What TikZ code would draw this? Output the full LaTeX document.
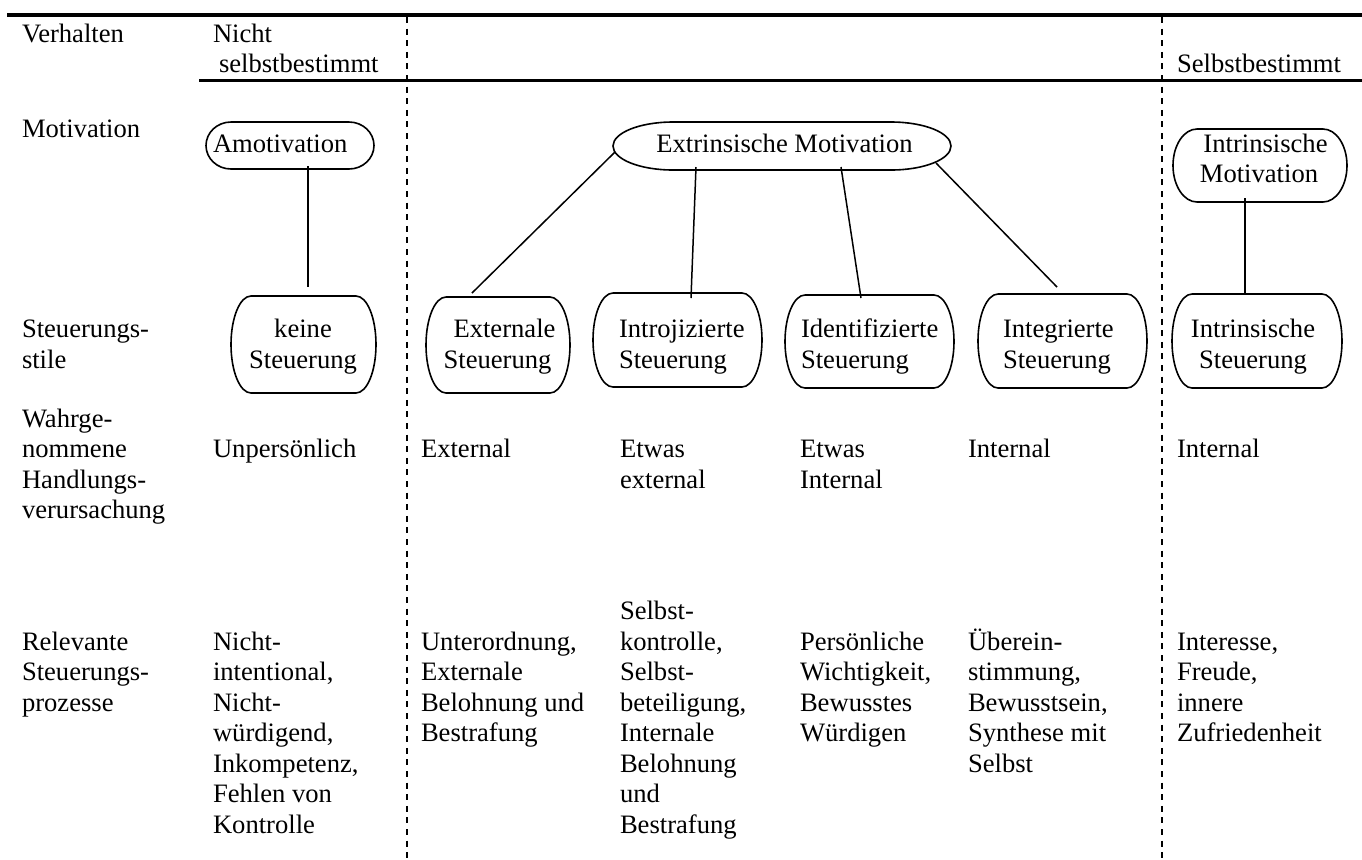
\documentclass[tikz,border=0pt]{standalone}
\usepackage{fontspec}
\setmainfont{Liberation Serif}
\usetikzlibrary{calc}

% stacked lines whose baseline is that of the first line
\newcommand\colL[1]{\begin{tabular}[t]{@{}l@{}}#1\end{tabular}}
\newcommand\colC[1]{\begin{tabular}[t]{@{}c@{}}#1\end{tabular}}

% outline with elliptical corners around a named node: name, x radius, y radius
\newcommand\ovalframe[3]{%
  \draw[frame] ([yshift=-#3]#1.north west)
      arc[start angle=180,end angle=90,x radius=#2,y radius=#3]
    -- ([xshift=-#2]#1.north east)
      arc[start angle=90,end angle=0,x radius=#2,y radius=#3]
    -- ([yshift=#3]#1.south east)
      arc[start angle=0,end angle=-90,x radius=#2,y radius=#3]
    -- ([xshift=#2]#1.south west)
      arc[start angle=270,end angle=180,x radius=#2,y radius=#3]
    -- cycle;}

\tikzset{
  txt/.style={inner sep=0pt, outer sep=0pt, font=\fontsize{13.3}{15.25}\selectfont},
  boxnode/.style={rectangle, inner sep=0pt, outer sep=0pt},
  frame/.style={draw=black, line width=0.8pt},
  link/.style={draw=black, line width=0.75pt},
  rulethick/.style={draw=black, line width=1.7pt},
  divider/.style={draw=black, line width=1pt, dash pattern=on 3pt off 2.8pt},
}

\begin{document}
\begin{tikzpicture}[x=0.5pt, y=-0.5pt]
\useasboundingbox (0,0) rectangle (1362,859);
\fill[white] (0,0) rectangle (1362,859);

% horizontal rules and column dividers
\draw[rulethick] (7,15) -- (1362,15);
\draw[rulethick] (199,80.5) -- (1362,80.5);
\draw[divider] (406.5,17) -- (406.5,859);
\draw[divider] (1162,17) -- (1162,859);

% row headings
\node[txt, anchor=base west] (hVerhalten) at (22,42) {Verhalten};
\node[txt, anchor=base west] (hMotivation) at (22,137) {Motivation};
\node[txt, anchor=base west] (hStil) at (22,337.5) {\colL{Steuerungs-\\stile}};
\node[txt, anchor=base west] (hWahr) at (22,427) {\colL{Wahrge-\\nommene\\Handlungs-\\verursachung}};
\node[txt, anchor=base west] (hProz) at (22,650) {\colL{Relevante\\Steuerungs-\\prozesse}};

% behaviour header
\node[txt, anchor=base west] (nichtSb) at (213,42) {\colL{Nicht\\\hspace*{3pt}selbstbestimmt}};
\node[txt, anchor=base west] (sb) at (1177,72.5) {Selbstbestimmt};

% motivation boxes
\node[boxnode, minimum width=84pt, minimum height=23.5pt] (amot) at (290,145.5) {};
\node[boxnode, minimum width=169pt, minimum height=24pt] (extr) at (782,146) {};
\node[boxnode, minimum width=87pt, minimum height=36.5pt] (intrmot) at (1260,165.5) {};
\ovalframe{amot}{12.5pt}{11.75pt}
\ovalframe{extr}{30pt}{12pt}
\ovalframe{intrmot}{12pt}{18.25pt}
\node[txt, anchor=base west] (amotT) at (213,152) {Amotivation};
\node[txt, anchor=base] (extrT) at (784.5,152) {Extrinsische Motivation};
\node[txt, anchor=base] (intrmotT) at (1259,152) {\colC{\hspace*{6.5pt}Intrinsische\\Motivation}};

% regulation style boxes
\node[boxnode, minimum width=72.5pt, minimum height=48.5pt] (keine) at (303.5,344.5) {};
\node[boxnode, minimum width=72pt, minimum height=48pt] (extern) at (498,345) {};
\node[boxnode, minimum width=84.5pt, minimum height=47pt] (introj) at (677.5,340) {};
\node[boxnode, minimum width=84.5pt, minimum height=46.5pt] (ident) at (869.5,341.5) {};
\node[boxnode, minimum width=84.5pt, minimum height=47pt] (integ) at (1062.5,341) {};
\node[boxnode, minimum width=85pt, minimum height=47pt] (intrst) at (1257,341) {};
\ovalframe{keine}{10pt}{24.25pt}
\ovalframe{extern}{10pt}{24pt}
\ovalframe{introj}{10pt}{23.5pt}
\ovalframe{ident}{10pt}{23.25pt}
\ovalframe{integ}{10pt}{23.5pt}
\ovalframe{intrst}{10pt}{23.5pt}
\node[txt, anchor=base] (keineT) at (303,337.5) {\colC{keine\\Steuerung}};
\node[txt, anchor=base] (externT) at (497.5,337.5) {\colC{\hspace*{7pt}Externale\\Steuerung}};
\node[txt, anchor=base west] (introjT) at (619,337.5) {\colL{Introjizierte\\Steuerung}};
\node[txt, anchor=base west] (identT) at (801,337.5) {\colL{Identifizierte\\Steuerung}};
\node[txt, anchor=base west] (integT) at (1003,337.5) {\colL{Integrierte\\Steuerung}};
\node[txt, anchor=base] (intrstT) at (1253,337.5) {\colC{Intrinsische\\Steuerung}};

% connectors
\draw[link] ([shift={(18,-3)}]amot.south) -- ([shift={(4.5,-9)}]keine.north);
\draw[link] ([shift={(2,6)}]extr.west) -- ([shift={(-26,-4)}]extern.north);
\draw[link] ([shift={(-86,-3)}]extr.south) -- ([shift={(13.5,5)}]introj.north);
\draw[link] ([shift={(59,-3)}]extr.south) -- ([shift={(-8.5,3)}]ident.north);
\draw[link] ([shift={(154,-7)}]extr.south) -- ([shift={(-5.5,-7)}]integ.north);
\draw[link] ([shift={(-15,-4)}]intrmot.south) -- ([shift={(-12,-1)}]intrst.north);

% perceived locus of causality
\node[txt, anchor=base west] (pUnp) at (213,457.5) {Unpers\"onlich};
\node[txt, anchor=base west] (pExt) at (421,457.5) {External};
\node[txt, anchor=base west] (pEtwExt) at (620,457.5) {\colL{Etwas\\external}};
\node[txt, anchor=base west] (pEtwInt) at (800,457.5) {\colL{Etwas\\Internal}};
\node[txt, anchor=base west] (pInt) at (968,457.5) {Internal};
\node[txt, anchor=base west] (pIntR) at (1177,457.5) {Internal};

% relevant regulatory processes
\node[txt, anchor=base west] (rA) at (213,650) {\colL{Nicht-\\intentional,\\Nicht-\\w\"urdigend,\\Inkompetenz,\\Fehlen von\\Kontrolle}};
\node[txt, anchor=base west] (rB) at (421,650) {\colL{Unterordnung,\\Externale\\Belohnung und\\Bestrafung}};
\node[txt, anchor=base west] (rC) at (620,619.5) {\colL{Selbst-\\kontrolle,\\Selbst-\\beteiligung,\\Internale\\Belohnung\\und\\Bestrafung}};
\node[txt, anchor=base west] (rD) at (800,650) {\colL{Pers\"onliche\\Wichtigkeit,\\Bewusstes\\W\"urdigen}};
\node[txt, anchor=base west] (rE) at (968,650) {\colL{\"Uberein-\\stimmung,\\Bewusstsein,\\Synthese mit\\Selbst}};
\node[txt, anchor=base west] (rF) at (1177,650) {\colL{Interesse,\\Freude,\\innere\\Zufriedenheit}};
\end{tikzpicture}
\end{document}
